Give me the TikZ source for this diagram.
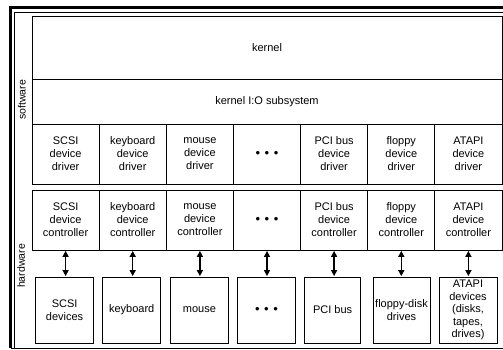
\documentclass[tikz,border=0pt]{standalone}
\usepackage{fontspec}
\setmainfont{Liberation Sans}
\usepackage{tikz}
\usetikzlibrary{arrows.meta}
\newcommand{\ioDots}{{\fontsize{13}{13}\selectfont\textbullet\hspace{0.35em}\textbullet\hspace{0.35em}\textbullet}}

\begin{document}
\begin{tikzpicture}[x=1pt,y=-1pt,
  ioCell/.style={draw, line width=0.8pt, inner sep=0pt, align=center, font={\fontsize{11}{13}\selectfont}, minimum width=67.14pt, minimum height=60pt},
  ioBar/.style={ioCell, minimum width=470pt},
  ioDev/.style={ioCell, minimum width=58pt, minimum height=66pt},
  ioSide/.style={font={\fontsize{10.5}{12}\selectfont}, rotate=90, inner sep=0pt},
  ioLink/.style={line width=1.4pt, {Triangle[width=6pt,length=6pt]}-{Triangle[width=6pt,length=6pt]}, shorten <=0.5pt, shorten >=0.5pt}]
\useasboundingbox (0,0) rectangle (503,350);
% frame
\draw[line width=2.6pt] (503,7.5) -- (10.5,7.5) -- (10.5,348);
\draw[line width=0.7pt] (503,12) -- (14.5,12) -- (14.5,348);
\draw[line width=0.8pt] (10.5,348.3) -- (503,348.3);
\node[ioSide] (labSoft) at (22,100) {software};
\node[ioSide] (labHard) at (21,266) {hardware};
% kernel layers
\node[ioBar, minimum height=63pt] (kern) at (267,47.5) {kernel};
\node[ioBar, minimum height=45pt] (kernIO) at (267,101.5) {kernel I:O subsystem};
% drivers
\node[ioCell] (drvScsi) at (65.6,154) {SCSI\\device\\driver};
\node[ioCell] (drvKbd) at (132.7,154) {keyboard\\device\\driver};
\node[ioCell] (drvMouse) at (199.9,154) {mouse\\device\\driver};
\node[ioCell] (drvDots) at (267,154) {\ioDots};
\node[ioCell] (drvPci) at (334.1,154) {PCI bus\\device\\driver};
\node[ioCell] (drvFloppy) at (401.3,154) {floppy\\device\\driver};
\node[ioCell] (drvAtapi) at (468.4,154) {ATAPI\\device\\driver};
% controllers
\node[ioCell] (ctlScsi) at (65.6,220) {SCSI\\device\\controller};
\node[ioCell] (ctlKbd) at (132.7,220) {keyboard\\device\\controller};
\node[ioCell] (ctlMouse) at (199.9,220) {mouse\\device\\controller};
\node[ioCell] (ctlDots) at (267,220) {\ioDots};
\node[ioCell] (ctlPci) at (334.1,220) {PCI bus\\device\\controller};
\node[ioCell] (ctlFloppy) at (401.3,220) {floppy\\device\\controller};
\node[ioCell] (ctlAtapi) at (468.4,220) {ATAPI\\device\\controller};
% devices
\node[ioDev] (devScsi) at (64.6,310) {SCSI\\devices};
\node[ioDev] (devKbd) at (131.7,310) {keyboard};
\node[ioDev] (devMouse) at (199.4,310) {mouse};
\node[ioDev] (devDots) at (266.5,310) {\ioDots};
\node[ioDev, minimum width=56pt] (devPci) at (332.6,310) {PCI bus};
\node[ioDev, minimum width=57pt] (devFloppy) at (401.5,310) {floppy-disk\\drives};
\node[ioDev, font={\fontsize{11}{12.4}\selectfont}] (devAtapi) at (468,310) {ATAPI\\devices\\(disks,\\tapes,\\drives)};
% links
\draw[ioLink] (ctlScsi.south) -- (ctlScsi.south |- devScsi.north);
\draw[ioLink] (ctlKbd.south) -- (ctlKbd.south |- devKbd.north);
\draw[ioLink] (ctlMouse.south) -- (ctlMouse.south |- devMouse.north);
\draw[ioLink] (ctlDots.south) -- (ctlDots.south |- devDots.north);
\draw[ioLink] (ctlPci.south) -- (ctlPci.south |- devPci.north);
\draw[ioLink] (ctlFloppy.south) -- (ctlFloppy.south |- devFloppy.north);
\draw[ioLink] (ctlAtapi.south) -- (ctlAtapi.south |- devAtapi.north);
\end{tikzpicture}
\end{document}
